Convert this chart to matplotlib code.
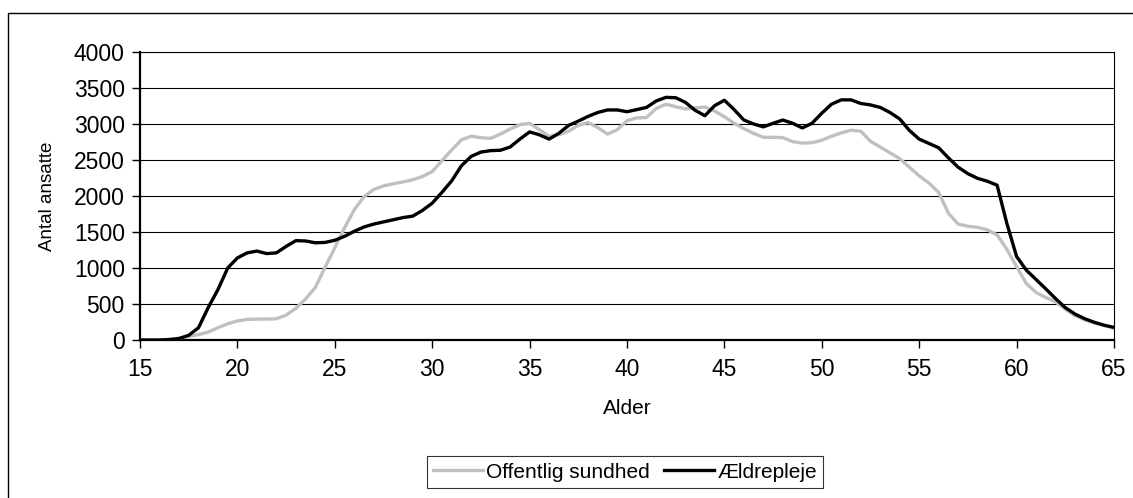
import numpy as np
import matplotlib
matplotlib.use('Agg')
import matplotlib.pyplot as plt
from matplotlib.patches import Rectangle

plt.rcParams['font.family'] = ['Liberation Sans', 'DejaVu Sans']

# age in half-year steps, 15 to 65
alder = np.arange(15, 65.5, 0.5)

offentlig_sundhed = [
    0, 0, 0, 10, 25, 50, 75, 110, 170, 225,
    265, 285, 290, 290, 295, 345, 440, 570, 730, 1010,
    1280, 1560, 1810, 1990, 2090, 2140, 2170, 2195, 2225, 2270,
    2340, 2490, 2640, 2780, 2830, 2810, 2800, 2860, 2930, 2990,
    3010, 2920, 2830, 2850, 2900, 2980, 3020, 2950, 2860, 2920,
    3045, 3085, 3090, 3215, 3275, 3240, 3210, 3225, 3235, 3180,
    3100, 3010, 2935, 2870, 2815, 2815, 2810, 2755, 2735, 2740,
    2775, 2830, 2875, 2915, 2900, 2760, 2680, 2600, 2520, 2400,
    2280, 2180, 2050, 1760, 1610, 1580, 1565, 1530, 1460, 1260,
    1020, 785, 660, 590, 530, 430, 340, 280, 235, 200,
    165,
]

aeldrepleje = [
    0, 0, 0, 5, 20, 65, 170, 450, 700, 1000,
    1140, 1210, 1235, 1200, 1210, 1300, 1380, 1375, 1350, 1355,
    1385, 1440, 1510, 1570, 1610, 1640, 1670, 1700, 1720, 1800,
    1900, 2050, 2210, 2420, 2550, 2610, 2630, 2635, 2680, 2790,
    2890, 2850, 2790, 2870, 2980, 3040, 3105, 3160, 3195, 3195,
    3170, 3200, 3230, 3320, 3370, 3365, 3300, 3190, 3115, 3255,
    3330, 3200, 3055, 3000, 2960, 3010, 3055, 3010, 2945, 3010,
    3150, 3275, 3335, 3335, 3285, 3265, 3230, 3160, 3070, 2910,
    2790, 2730, 2670, 2530, 2400, 2310, 2245, 2205, 2150, 1620,
    1160, 970, 840, 710, 575, 450, 360, 295, 245, 205,
    175,
]

fig = plt.figure(figsize=(11.33, 4.98), dpi=100)
ax = fig.add_axes([0.1236, 0.3173, 0.8596, 0.5783])

# horizontal grid every 500
for y in range(500, 4001, 500):
    ax.axhline(y, color='black', lw=0.8, zorder=1)

ax.plot(alder, offentlig_sundhed, color='#c0c0c0', lw=2.4, label='Offentlig sundhed', zorder=3)
ax.plot(alder, aeldrepleje, color='black', lw=2.4, label='Ældrepleje', zorder=4)

ax.set_xlim(15, 65)
ax.set_ylim(0, 4000)
ax.set_xticks(range(15, 66, 5))
ax.set_yticks(range(0, 4001, 500))
ax.tick_params(direction='out', length=6, width=1, labelsize=16.5)
ax.tick_params(axis='x', pad=7)
ax.tick_params(axis='y', pad=5)

for side in ['top', 'right']:
    ax.spines[side].set_linewidth(0.8)
for side in ['left', 'bottom']:
    ax.spines[side].set_linewidth(1.6)

ax.set_xlabel('Alder', fontsize=15, labelpad=13)
ax.set_ylabel('Antal ansatte', fontsize=13.5, labelpad=13)

leg = ax.legend(loc='center', bbox_to_anchor=(625 / 1133, 1 - 472 / 498),
                bbox_transform=fig.transFigure, ncol=2, fontsize=15,
                frameon=True, fancybox=False, handlelength=2.4,
                handletextpad=0.15, columnspacing=0.7, borderpad=0.3,
                borderaxespad=0)
leg.get_frame().set_edgecolor('black')
leg.get_frame().set_linewidth(0.8)

# outer chart frame
fig.patches.append(Rectangle((8 / 1133, -0.1), 1.0, 1.1 - 13 / 498,
                             transform=fig.transFigure, fill=False,
                             edgecolor='black', lw=1))

fig.savefig('out.png', dpi=100)
